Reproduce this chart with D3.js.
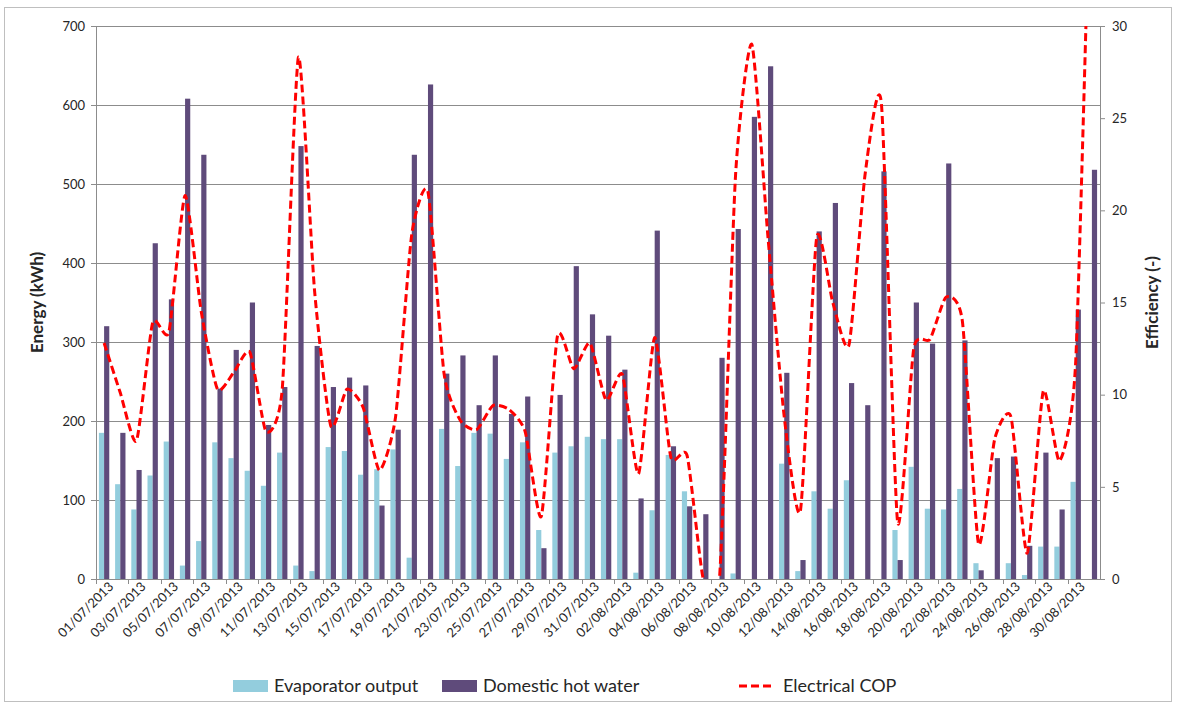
<!DOCTYPE html>
<html>
<head>
<meta charset="utf-8">
<script src="https://cdn.jsdelivr.net/npm/d3@7"></script>
<style>
  body { margin: 0; background: #fff; }
  #chart { width: 1178px; height: 709px; }
  text { font-family: Lato, "Open Sans", sans-serif; fill: #262626; }
</style>
</head>
<body>
<div id="chart"></div>
<script>
// categories: one per day, July and August 2013
var dates = ["01/07/2013","02/07/2013","03/07/2013","04/07/2013","05/07/2013","06/07/2013","07/07/2013","08/07/2013",
  "09/07/2013","10/07/2013","11/07/2013","12/07/2013","13/07/2013","14/07/2013","15/07/2013","16/07/2013",
  "17/07/2013","18/07/2013","19/07/2013","20/07/2013","21/07/2013","22/07/2013","23/07/2013","24/07/2013",
  "25/07/2013","26/07/2013","27/07/2013","28/07/2013","29/07/2013","30/07/2013","31/07/2013","01/08/2013",
  "02/08/2013","03/08/2013","04/08/2013","05/08/2013","06/08/2013","07/08/2013","08/08/2013","09/08/2013",
  "10/08/2013","11/08/2013","12/08/2013","13/08/2013","14/08/2013","15/08/2013","16/08/2013","17/08/2013",
  "18/08/2013","19/08/2013","20/08/2013","21/08/2013","22/08/2013","23/08/2013","24/08/2013","25/08/2013",
  "26/08/2013","27/08/2013","28/08/2013","29/08/2013","30/08/2013","31/08/2013"];

// kWh per day
var evaporator = [185,120,88,131,174,17,48,173,153,137,118,160,17,10,167,162,
  132,139,164,27,0,190,143,185,184,152,173,62,160,168,180,177,
  177,8,87,157,111,0,0,7,0,0,146,10,111,89,125,0,
  0,62,142,89,88,114,20,0,20,5,41,41,123,0];
var hotWater = [320,185,138,425,354,608,537,241,290,350,195,243,548,295,243,255,
  245,93,189,537,626,260,283,220,283,209,231,39,233,396,335,308,
  265,102,441,168,92,82,280,443,585,649,261,24,440,476,248,220,
  516,24,350,298,526,302,11,153,155,42,160,88,341,518];
// efficiency (-), right axis
var cop = [12.8,10.1,7.5,13.9,13.4,20.8,14.5,10.3,11.2,12.3,8.0,10.3,28.3,15.6,8.3,10.3,
  9.3,5.9,8.8,18.7,21.0,11.1,8.6,8.1,9.4,9.2,8.0,3.4,13.2,11.4,12.8,9.7,
  11.1,5.7,13.1,6.6,6.7,0,0,22.0,29.0,18.5,8.8,3.7,18.5,15.0,12.7,22.0,
  25.8,3.1,12.5,13.0,15.3,14.0,1.9,7.6,8.8,1.4,10.2,6.4,11.8,42];

var leftTicks = [0,100,200,300,400,500,600,700];
var rightTicks = [0,5,10,15,20,25,30];
var seriesNames = ["Evaporator output","Domestic hot water","Electrical COP"];
var colors = {evap: "#93cddd", dhw: "#5f4b7b", cop: "#ff0000", grid: "#8c8c8c"};

var totalW = 1178, totalH = 709;
var margin = {top: 26, right: 78, bottom: 130, left: 96};
var width = totalW - margin.left - margin.right,
    height = totalH - margin.top - margin.bottom;

var svg = d3.select("#chart").append("svg")
  .attr("width", totalW)
  .attr("height", totalH);

// outer frame
svg.append("rect")
  .attr("x", 4.5).attr("y", 7.5)
  .attr("width", 1167).attr("height", 694)
  .attr("fill", "none").attr("stroke", "#bfbfbf");

var g = svg.append("g")
  .attr("transform", "translate(" + margin.left + "," + margin.top + ")");

var x = d3.scaleBand().domain(dates).range([0, width])
  .paddingInner(0.36).paddingOuter(0.18);
var xs = d3.scaleBand().domain(["evap","dhw"]).range([0, x.bandwidth()]);
var y = d3.scaleLinear().domain([0, 700]).range([height, 0]);
var y2 = d3.scaleLinear().domain([0, 30]).range([height, 0]);

// gridlines
g.append("g").selectAll("line")
  .data(leftTicks.slice(1))
  .enter().append("line")
    .attr("x1", 0).attr("x2", width)
    .attr("y1", d => Math.round(y(d)) + 0.5)
    .attr("y2", d => Math.round(y(d)) + 0.5)
    .attr("stroke", colors.grid).attr("stroke-width", 1);

// bars
var cat = g.append("g").selectAll("g")
  .data(dates)
  .enter().append("g")
    .attr("transform", d => "translate(" + x(d) + ",0)");
cat.append("rect")
  .attr("x", xs("evap"))
  .attr("y", (d, i) => y(evaporator[i]))
  .attr("width", xs.bandwidth())
  .attr("height", (d, i) => height - y(evaporator[i]))
  .attr("fill", colors.evap);
cat.append("rect")
  .attr("x", xs("dhw"))
  .attr("y", (d, i) => y(hotWater[i]))
  .attr("width", xs.bandwidth())
  .attr("height", (d, i) => height - y(hotWater[i]))
  .attr("fill", colors.dhw);

// left axis
var axL = g.append("g")
  .call(d3.axisLeft(y).tickValues(leftTicks).tickSize(5).tickPadding(6));
axL.selectAll("text").style("font-size", "13px");

// right axis
var axR = g.append("g")
  .attr("transform", "translate(" + width + ",0)")
  .call(d3.axisRight(y2).tickValues(rightTicks).tickSize(5).tickPadding(7));
axR.selectAll("text").style("font-size", "13px");

// bottom axis, label every second day
var axB = g.append("g")
  .attr("transform", "translate(0," + height + ")")
  .call(d3.axisBottom(x).tickValues(dates.filter((d, i) => i % 2 == 0)).tickSize(0).tickPadding(4));
axB.selectAll("text")
  .style("font-size", "13px")
  .style("text-anchor", "end")
  .attr("dx", "0.1em").attr("dy", "0.7em")
  .attr("transform", "rotate(-45)");
// tick marks between categories, every two days
axB.append("g").selectAll("line")
  .data(dates.filter((d, i) => i % 2 == 0))
  .enter().append("line")
    .attr("x1", d => Math.round(x(d) - x.step() * x.paddingInner() / 2) + 0.5)
    .attr("x2", d => Math.round(x(d) - x.step() * x.paddingInner() / 2) + 0.5)
    .attr("y1", 0).attr("y2", 5)
    .attr("stroke", colors.grid);

g.selectAll(".domain").attr("stroke", colors.grid);
g.selectAll(".tick line").attr("stroke", colors.grid);

// COP line, clipped to plot area
svg.append("clipPath").attr("id", "plotclip")
  .append("rect").attr("x", 0).attr("y", 0).attr("width", width).attr("height", height);
var line = d3.line()
  .x((d, i) => x(dates[i]) + x.bandwidth() / 2)
  .y(d => y2(d))
  .curve(d3.curveCardinal.tension(0.4));
g.append("path")
  .datum(cop)
  .attr("clip-path", "url(#plotclip)")
  .attr("d", line)
  .attr("fill", "none")
  .attr("stroke", colors.cop)
  .attr("stroke-width", 3)
  .attr("stroke-dasharray", "8,4");

// axis titles
svg.append("text")
  .attr("transform", "translate(43," + (margin.top + height / 2) + ")rotate(-90)")
  .attr("text-anchor", "middle")
  .style("font-size", "17px").style("font-weight", "bold")
  .text("Energy (kWh)");
svg.append("text")
  .attr("transform", "translate(1158," + (margin.top + height / 2) + ")rotate(-90)")
  .attr("text-anchor", "middle")
  .style("font-size", "17px").style("font-weight", "bold")
  .text("Efficiency (-)");

// legend
var legend = svg.append("g").attr("transform", "translate(0,686)");
legend.append("rect").attr("x", 233).attr("y", -6).attr("width", 35).attr("height", 12).attr("fill", colors.evap);
legend.append("text").attr("x", 274).attr("y", 6).style("font-size", "18px").text(seriesNames[0]);
legend.append("rect").attr("x", 442).attr("y", -6).attr("width", 35).attr("height", 12).attr("fill", colors.dhw);
legend.append("text").attr("x", 483).attr("y", 6).style("font-size", "18px").text(seriesNames[1]);
legend.append("line").attr("x1", 739).attr("x2", 771).attr("y1", 0).attr("y2", 0)
  .attr("stroke", colors.cop).attr("stroke-width", 3).attr("stroke-dasharray", "8,4");
legend.append("text").attr("x", 783).attr("y", 6).style("font-size", "18px").text(seriesNames[2]);
</script>
</body>
</html>
